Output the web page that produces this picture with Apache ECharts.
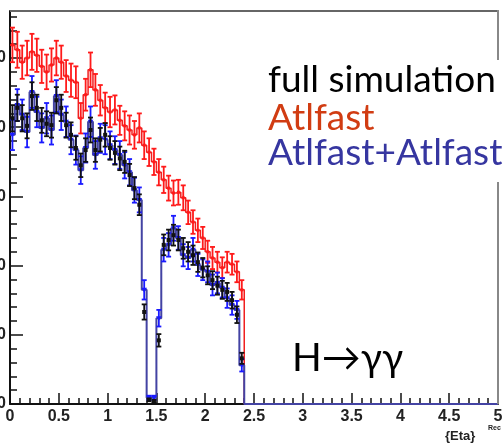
<!DOCTYPE html>
<html>
<head>
<meta charset="utf-8">
<script src="https://cdn.jsdelivr.net/npm/echarts@6/dist/echarts.min.js"></script>
<style>
html,body{margin:0;padding:0;background:#fff;}
#c{width:504px;height:444px;}
</style>
</head>
<body>
<div id="c"></div>
<script>
// ---- data (bins of 0.05 in |eta| from 0 to 2.4) ----
const binWidth = 0.05;
const atlfast = [519,512,494,500,509,504,488,480,490,500,494,474,468,465,413,447,483,454,439,428,422,425,410,402,396,389,399,374,364,350,335,324,312,305,306,298,277,263,251,240,220,211,205,197,205,202,191,165];
const atlfastErr = [25,26,24,25,26,24,24,25,24,25,24,23,24,23,22,23,25,23,22,22,22,21,21,21,21,20,21,20,20,19,19,19,18,18,18,18,17,17,17,16,16,16,15,15,15,15,15,14];
const atlfastG = [389,432,418,393,451,422,399,413,396,445,418,408,382,367,338,370,408,360,384,382,374,367,360,345,335,309,295,165,9,9,124,223,230,254,240,215,211,223,201,194,191,172,175,168,153,143,136,56];
const atlfastGErr = [22,23,22,22,23,22,21,22,21,23,22,22,21,21,20,21,22,20,21,21,20,20,20,19,19,18,18,14,3,3,12,17,17,18,17,16,16,17,16,15,15,15,15,14,14,14,13,9];
const fullSim = [413,428,413,402,445,428,410,405,403,439,428,403,389,370,345,367,396,367,382,389,370,363,355,350,331,312,288,133,6,4,92,230,237,244,237,225,220,215,205,197,186,179,171,165,162,150,129,66];
const fullSimErr = [19,19,19,18,20,19,18,18,18,19,19,18,18,17,17,17,18,17,17,17,17,17,17,16,16,16,15,11,2,2,9,15,15,15,15,15,14,14,14,14,13,13,13,13,13,12,12,8];
const xTickLabels = ['0','0.5','1','1.5','2','2.5','3','3.5','4','4.5','5'];
const legendLabels = ['full simulation','Atlfast','Atlfast+AtlfastG'];
const processLabel = 'H\u2192\u03b3\u03b3';

// ---- build helpers ----
function points(vals, errs){
  return vals.map((v,i)=>[(i+0.5)*binWidth, v, errs[i]]);
}
function steps(vals){
  const p=[[0,vals[0]]];
  vals.forEach((v,i)=>{ p.push([i*binWidth,v]); p.push([(i+1)*binWidth,v]); });
  const end = vals.length*binWidth;
  p.push([end,0]); p.push([5,0]);
  return p;
}
function errRender(color, marker){
  return function(params, api){
    const x=api.value(0), y=api.value(1), e=api.value(2);
    const c=api.coord([x,y]), t=api.coord([x,y+e]), b=api.coord([x,Math.max(0,y-e)]);
    const hw=2.5;
    const st={stroke:color,lineWidth:1.8};
    const ch=[
      {type:'line',shape:{x1:c[0],y1:t[1],x2:c[0],y2:b[1]},style:st},
      {type:'line',shape:{x1:c[0]-hw,y1:t[1],x2:c[0]+hw,y2:t[1]},style:st},
      {type:'line',shape:{x1:c[0]-hw,y1:b[1],x2:c[0]+hw,y2:b[1]},style:st}
    ];
    if(marker==='tri'){
      ch.push({type:'polygon',shape:{points:[[c[0]-2.8,c[1]-2],[c[0]+2.8,c[1]-2],[c[0],c[1]+2.6]]},style:{fill:color}});
    } else {
      const s = marker==='big'?4:3;
      ch.push({type:'rect',shape:{x:c[0]-s/2,y:c[1]-s/2,width:s,height:s},style:{fill:color}});
    }
    return {type:'group',children:ch};
  };
}

const chart = echarts.init(document.getElementById('c'), null, {renderer:'canvas'});
const axisFont = {fontFamily:"'Liberation Sans Narrow','Liberation Sans',Arial,sans-serif", fontWeight:'bold', fontSize:16, color:'#222'};
const yMax = 568;
const legendFont = "37px Lato, 'Noto Sans', sans-serif";

chart.setOption({
  animation:false,
  backgroundColor:'#fff',
  grid:{left:10,right:6,top:11,bottom:40,show:false,containLabel:false,outerBoundsMode:'none'},
  xAxis:{type:'value',min:0,max:5,interval:0.5,
    axisLine:{show:true,onZero:false,lineStyle:{color:'#111',width:2}},
    axisTick:{show:true,inside:true,length:11,lineStyle:{color:'#111',width:1.5}},
    minorTick:{show:true,splitNumber:5,length:6,lineStyle:{color:'#111',width:1.5}},
    splitLine:{show:false},
    axisLabel:Object.assign({margin:5,formatter:(v)=>{const i=Math.round(v/0.5);return xTickLabels[i]!==undefined?xTickLabels[i]:'';}},axisFont)
  },
  yAxis:{type:'value',min:0,max:yMax,interval:100,
    axisLine:{show:true,lineStyle:{color:'#111',width:2}},
    axisTick:{show:true,inside:true,length:13,lineStyle:{color:'#111',width:1.5}},
    minorTick:{show:true,splitNumber:5,length:7,lineStyle:{color:'#111',width:1.5}},
    splitLine:{show:false},
    axisLabel:Object.assign({margin:4,showMaxLabel:false},axisFont)
  },
  series:[
    {type:'line',data:steps(atlfast),symbol:'none',lineStyle:{color:'#f02020',width:1.5},z:2},
    {type:'line',data:steps(atlfastG),symbol:'none',lineStyle:{color:'#4343a3',width:2},z:3},
    {type:'custom',data:points(atlfast,atlfastErr),renderItem:errRender('#ff1a1a','sq'),clip:true,z:4},
    {type:'custom',data:points(atlfastG,atlfastGErr),renderItem:errRender('#1a1aff','tri'),clip:true,z:5},
    {type:'custom',data:points(fullSim,fullSimErr),renderItem:errRender('#111111','big'),clip:true,z:6}
  ],
  graphic:[
    {type:'line',shape:{x1:10,y1:11,x2:498,y2:11},style:{stroke:'#666',lineWidth:2},z:10},
    {type:'line',shape:{x1:498,y1:10,x2:498,y2:404},style:{stroke:'#888',lineWidth:2},z:10},
    {type:'rect',shape:{x:262,y:60,width:242,height:122},style:{fill:'#fff'},z:20},
    {type:'text',x:268,y:62,style:{text:legendLabels[0],fill:'#000',font:legendFont,verticalAlign:'top'},z:21},
    {type:'text',x:268,y:100,style:{text:legendLabels[1],fill:'#d13c12',font:legendFont,verticalAlign:'top'},z:21},
    {type:'text',x:268,y:135,style:{text:legendLabels[2],fill:'#3636a0',font:legendFont,verticalAlign:'top'},z:21},
    {type:'text',x:292,y:339,style:{text:processLabel,fill:'#000',font:"39px Lato, 'Noto Sans', sans-serif",verticalAlign:'top'},z:21},
    {type:'text',x:445,y:443,style:{text:'{Eta}',fill:'#222',font:"bold 13px 'Liberation Sans Narrow','Liberation Sans',Arial",verticalAlign:'bottom'},z:21},
    {type:'text',x:488,y:432,style:{text:'Rec',fill:'#222',font:"bold 7px 'Liberation Sans',Arial",verticalAlign:'bottom'},z:21}
  ]
});
</script>
</body>
</html>
